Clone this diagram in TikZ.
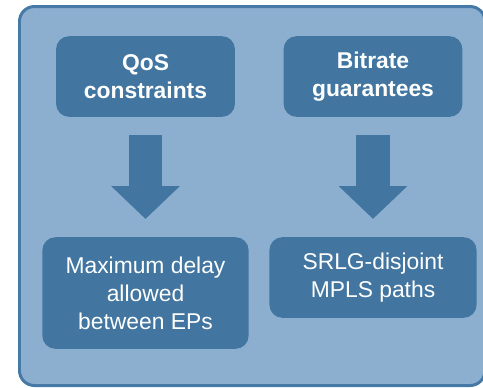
\documentclass[tikz,border=0pt]{standalone}
\usepackage{fontspec}
\setmainfont{Liberation Sans}
\usetikzlibrary{arrows.meta}

\definecolor{panelfill}{RGB}{140,175,208}
\definecolor{panelline}{RGB}{70,121,166}
\definecolor{boxfill}{RGB}{66,118,161}

\tikzset{
	box/.style={fill=boxfill, rounded corners=7.4pt, text=white, align=center,
		font=\fontsize{13}{16}\selectfont, inner sep=0pt},
	topbox/.style={box, font=\fontsize{13}{16}\selectfont\bfseries,
		minimum width=101.8pt, minimum height=45.9pt},
	blockarrow/.style={boxfill, line width=19.3pt,
		-{Triangle[length=18.7pt, width=38pt]}}
}

\begin{document}
\begin{tikzpicture}[x=0.02cm, y=-0.02cm, line cap=butt, line join=round]
	\useasboundingbox (0,0) rectangle (483,387);

	% Panel
	\draw[fill=panelfill, draw=panelline, line width=1.7pt, rounded corners=8.5pt]
		(19.5,6.5) rectangle (485,385.5);

	% Upper boxes
	\node[topbox] (qos) at (145.5,76.5) {QoS\\constraints};
	\node[topbox] (bitrate) at (373,76.5) {Bitrate\\guarantees};

	% Lower boxes
	\node[box, minimum width=117.4pt, minimum height=63.5pt] (delay) at (145.5,293)
		{Maximum delay\\allowed\\between EPs};
	\node[box, minimum width=117.9pt, minimum height=45.9pt] (srlg) at (373,277.5)
		{SRLG-disjoint\\MPLS paths};

	% Arrows
	\draw[blockarrow] ([yshift=-10.2pt]qos.south) -- ([yshift=10.2pt]delay.north);
	\draw[blockarrow] ([yshift=-10.2pt]bitrate.south) -- ([yshift=10.2pt]srlg.north);
\end{tikzpicture}
\end{document}
